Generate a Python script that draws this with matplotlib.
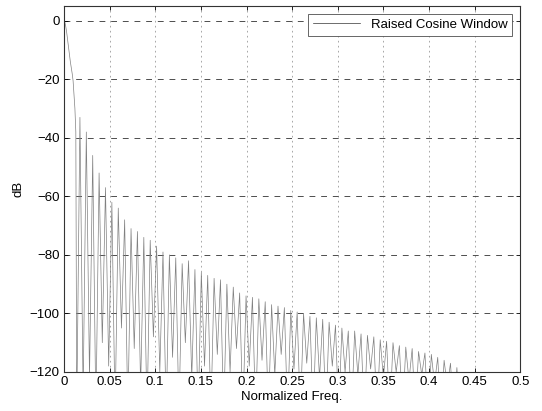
import numpy as np
import matplotlib.pyplot as plt

plt.rcParams['font.family'] = ['Liberation Sans', 'DejaVu Sans']

# main lobe
main_f = [0.0, 0.001, 0.002, 0.003, 0.004, 0.005, 0.006, 0.007, 0.008, 0.009,
          0.010, 0.011, 0.012, 0.013]
main_db = [0.0, -0.5, -2.0, -4.0, -6.5, -9.0, -11.5, -14.0, -16.0, -18.0,
           -20.5, -25.0, -30.0, -38.0]

# sidelobe nulls and peaks
null_f = [0.014, 0.021, 0.028, 0.035, 0.042, 0.049, 0.056, 0.063, 0.070, 0.077,
          0.084, 0.091, 0.098, 0.105, 0.112, 0.119, 0.126, 0.133, 0.140, 0.147,
          0.154, 0.161, 0.168, 0.175, 0.182, 0.189, 0.196, 0.203, 0.210, 0.217,
          0.224, 0.231, 0.238, 0.245, 0.252, 0.259, 0.266, 0.273, 0.280, 0.287,
          0.294, 0.301, 0.308, 0.315, 0.322, 0.329, 0.336, 0.343, 0.350, 0.357,
          0.364, 0.371, 0.378, 0.385, 0.392, 0.399, 0.406, 0.413, 0.420, 0.427,
          0.434, 0.441]
null_db = [-135, -128, -122, -135, -110, -118, -135, -105, -135, -112,
           -125, -135, -108, -120, -135, -115, -135, -110, -122, -135,
           -118, -135, -114, -135, -120, -112, -135, -118, -135, -116,
           -135, -121, -114, -135, -119, -135, -117, -135, -122, -135,
           -118, -135, -120, -135, -121, -135, -119, -135, -122, -135,
           -120, -135, -123, -135, -121, -135, -124, -135, -125, -135,
           -135, -140]
peak_f = [0.0175, 0.0245, 0.0315, 0.0385, 0.0455, 0.0525, 0.0595, 0.0665, 0.0735, 0.0805,
          0.0875, 0.0945, 0.1015, 0.1085, 0.1155, 0.1225, 0.1295, 0.1365, 0.1435, 0.1505,
          0.1575, 0.1645, 0.1715, 0.1785, 0.1855, 0.1925, 0.1995, 0.2065, 0.2135, 0.2205,
          0.2275, 0.2345, 0.2415, 0.2485, 0.2555, 0.2625, 0.2695, 0.2765, 0.2835, 0.2905,
          0.2975, 0.3045, 0.3115, 0.3185, 0.3255, 0.3325, 0.3395, 0.3465, 0.3535, 0.3605,
          0.3675, 0.3745, 0.3815, 0.3885, 0.3955, 0.4025, 0.4095, 0.4165, 0.4235, 0.4305,
          0.4375]
peak_db = [-33, -38, -46, -52, -57, -62, -64, -68, -71, -72,
           -74, -75, -77, -79, -80, -81, -83, -82, -85, -86,
           -87, -88, -88.5, -90, -91, -93, -94, -94.5, -95, -96,
           -97, -97.5, -98, -99, -99.5, -100, -101, -101.5, -102, -103,
           -104, -105, -106, -106, -107, -107.5, -108, -109, -109.5, -110,
           -111, -111.5, -112, -113, -113.5, -114, -115, -116, -117, -118.5,
           -121]

# assemble the trace: main lobe, then null/peak alternating
freq = list(main_f)
mag = list(main_db)
for i in range(len(peak_f)):
    freq += [null_f[i], peak_f[i]]
    mag += [null_db[i], peak_db[i]]
freq += [null_f[-1], 0.5]
mag += [null_db[-1], -140]

fig = plt.figure(figsize=(5.42, 4.11), dpi=100)
ax = fig.add_axes([0.118, 0.095, 0.842, 0.89])
ax.plot(freq, mag, color='0.5', lw=0.5, label='Raised Cosine Window')

ax.set_xlim(0, 0.5)
ax.set_ylim(-120, 5)
xt = np.arange(0, 0.501, 0.05)
ax.set_xticks(xt)
ax.set_xticklabels(['0', '0.05', '0.1', '0.15', '0.2', '0.25', '0.3', '0.35', '0.4', '0.45', '0.5'])
ax.set_yticks(np.arange(-120, 1, 20))

# matlab-ish grid
ax.yaxis.grid(True, color='0.3', lw=0.7, linestyle=(0, (6, 6)))
ax.xaxis.grid(True, color='0.6', lw=0.6, linestyle=(0, (2, 4)))
ax.tick_params(direction='in', length=3, width=0.6, labelsize=9.5, top=True, right=True, pad=3)
for s in ax.spines.values():
    s.set_linewidth(0.8)
    s.set_color('0.2')

ax.set_xlabel('Normalized Freq.', fontsize=9.5, labelpad=2)
ax.set_ylabel('dB', fontsize=9.5, labelpad=4)

leg = ax.legend(loc='upper right', fontsize=9.5, handlelength=3.6, fancybox=False,
                framealpha=1, borderpad=0.35, borderaxespad=0.6)
leg.get_frame().set_edgecolor('0.3')
leg.get_frame().set_linewidth(0.6)
for ln in leg.get_lines():
    ln.set_color('0.2')

fig.savefig('out.png', dpi=100)
